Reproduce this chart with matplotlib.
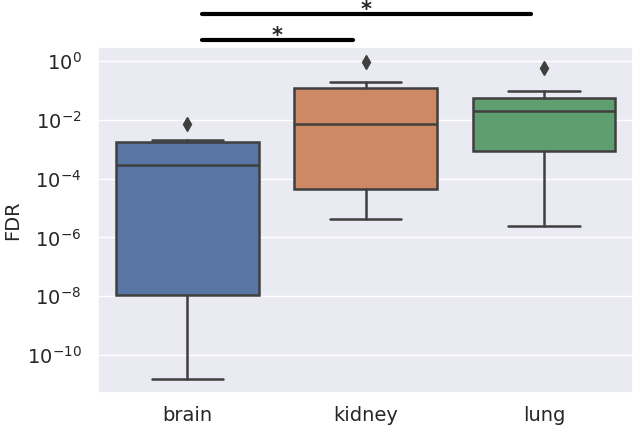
import numpy as np
import matplotlib; matplotlib.use("Agg")
import matplotlib.pyplot as plt
import seaborn as sns
from matplotlib.ticker import FixedLocator, LogFormatterSciNotation, NullLocator

sns.set_theme(style="darkgrid")

tissues = ["brain", "kidney", "lung"]
# box statistics (FDR)
q1 = [1.1e-8, 4.3e-5, 8.5e-4]
median = [2.8e-4, 7.0e-3, 2.0e-2]
q3 = [1.7e-3, 0.12, 0.055]
whislo = [1.5e-11, 4.4e-6, 2.5e-6]
whishi = [2.0e-3, 0.20, 0.095]
fliers = [[7.0e-3], [0.95], [0.58]]
colors = ["#5975a4", "#cc8963", "#5f9e6e"]
yticks = [1e-10, 1e-8, 1e-6, 1e-4, 1e-2, 1e0]

# significance brackets: (x start, x end, height in axes fraction)
sig_pairs = [(0.08, 0.93, 1.02), (0.08, 1.93, 1.095)]

stats = [dict(label=t, q1=a, med=m, q3=b, whislo=lo, whishi=hi, fliers=f)
         for t, a, m, b, lo, hi, f in zip(tissues, q1, median, q3, whislo, whishi, fliers)]

fig = plt.figure(figsize=(6.33, 4.28), dpi=100)
ax = fig.add_axes([0.155, 0.082, 0.845, 0.808])

lc = "#3f3f3f"
bp = ax.bxp(stats, positions=range(len(tissues)), widths=0.8, patch_artist=True,
            boxprops=dict(edgecolor=lc, linewidth=1.8),
            medianprops=dict(color=lc, linewidth=1.8),
            whiskerprops=dict(color=lc, linewidth=1.8),
            capprops=dict(color=lc, linewidth=1.8),
            flierprops=dict(marker="d", markerfacecolor=lc, markeredgecolor=lc,
                            markersize=7))
for patch, c in zip(bp["boxes"], colors):
    patch.set_facecolor(c)
for cap in bp["caps"]:
    x = cap.get_xdata()
    cx = (x[0] + x[1]) / 2
    cap.set_xdata([cx - 0.2, cx + 0.2])

ax.set_yscale("log")
ax.set_ylim(10 ** -11.29, 10 ** 0.476)
ax.set_xlim(-0.5, 2.5)
ax.yaxis.set_major_locator(FixedLocator(yticks))
ax.yaxis.set_major_formatter(LogFormatterSciNotation(base=10.0))
ax.yaxis.set_minor_locator(NullLocator())
ax.set_xticks(range(len(tissues)))
ax.set_xticklabels(tissues)
ax.grid(False, axis="x")
ax.tick_params(labelsize=14)
ax.tick_params(axis="y", pad=6)
ax.set_ylabel("FDR", fontsize=14)
ax.yaxis.set_label_coords(-0.142, 0.5)

trans = ax.get_xaxis_transform()
for x0, x1, h in sig_pairs:
    ax.plot([x0, x1], [h, h], color="black", lw=3, transform=trans, clip_on=False)
    ax.text((x0 + x1) / 2, h + 0.011, "*", ha="center", va="center", fontsize=15,
            fontweight="bold", transform=trans)

fig.savefig("out.png", dpi=100)
